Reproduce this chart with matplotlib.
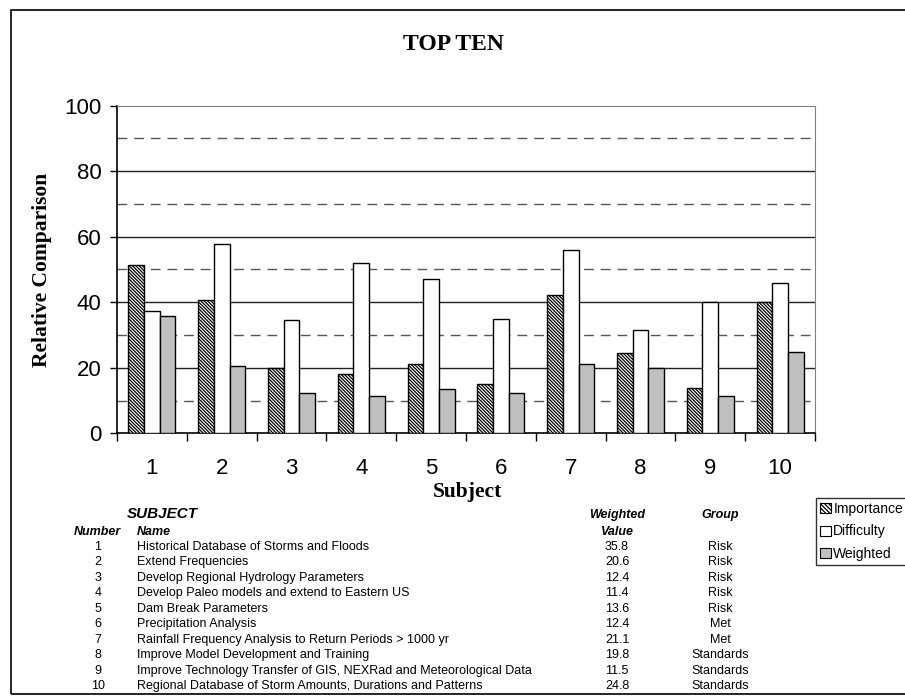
import matplotlib
matplotlib.use("Agg")
from matplotlib import pyplot as plt
from matplotlib.patches import Rectangle, Patch
import numpy as np

# data
subjects = [1, 2, 3, 4, 5, 6, 7, 8, 9, 10]
importance = [51.3, 40.6, 20.0, 18.2, 21.3, 15.1, 42.1, 24.5, 13.9, 40.0]
difficulty = [37.3, 57.8, 34.5, 52.0, 47.1, 35.0, 56.0, 31.5, 40.0, 45.8]
weighted = [35.8, 20.6, 12.4, 11.4, 13.6, 12.4, 21.1, 19.8, 11.5, 24.8]

names = ["Historical Database of Storms and Floods",
         "Extend Frequencies",
         "Develop Regional Hydrology Parameters",
         "Develop Paleo models and extend to Eastern US",
         "Dam Break Parameters",
         "Precipitation Analysis",
         "Rainfall Frequency Analysis to Return Periods > 1000 yr",
         "Improve Model Development and Training",
         "Improve Technology Transfer of GIS, NEXRad and Meteorological Data",
         "Regional Database of Storm Amounts, Durations and Patterns"]
weighted_txt = ["35.8", "20.6", "12.4", "11.4", "13.6", "12.4", "21.1", "19.8", "11.5", "24.8"]
groups = ["Risk", "Risk", "Risk", "Risk", "Risk", "Met", "Met",
          "Standards", "Standards", "Standards"]

W, H = 905, 696
plt.rcParams["hatch.linewidth"] = 0.9
serif = "Liberation Serif"
sans = "Liberation Sans"

fig = plt.figure(figsize=(W / 100, H / 100), dpi=100)

def fx(px):
    return px / W

def fy(py):
    return 1 - py / H

# outer chart frame (runs off the right edge like the original)
fig.patches.append(Rectangle((fx(11), fy(694)), fx(920) - fx(11), fy(10) - fy(694),
                             transform=fig.transFigure, fill=False,
                             edgecolor="black", lw=1.2, zorder=0))

ax = fig.add_axes([fx(117), fy(433.3), fx(815) - fx(117), fy(105.7) - fy(433.3)])

x = np.array(subjects)
bw = 0.224
ax.bar(x - bw, importance, bw, facecolor="white", edgecolor="black", lw=1,
       hatch="\\" * 10, zorder=3)
ax.bar(x, difficulty, bw, facecolor="white", edgecolor="black", lw=1, zorder=3)
ax.bar(x + bw, weighted, bw, facecolor="#c0c0c0", edgecolor="black", lw=1, zorder=3)

ax.set_xlim(0.5, 10.5)
ax.set_ylim(0, 100)

for v in [20, 40, 60, 80]:
    ax.axhline(v, color="#222222", lw=1, zorder=1)
for v in [10, 30, 50, 70, 90]:
    ax.axhline(v, color="#555555", lw=1, ls=(0, (7, 5)), zorder=1)

ax.spines["left"].set_color("black")
ax.spines["bottom"].set_color("black")
ax.spines["left"].set_linewidth(1.2)
ax.spines["bottom"].set_linewidth(1.2)
ax.spines["top"].set_color("#808080")
ax.spines["right"].set_color("#808080")

ax.set_yticks([0, 20, 40, 60, 80, 100])
ax.tick_params(axis="y", direction="out", length=5, width=1, pad=6,
               labelsize=16, labelfontfamily=sans)
ax.set_xticks(x)
ax.set_xticklabels([str(s) for s in subjects])
ax.set_xticks(np.arange(0.5, 11, 1), minor=True)
ax.tick_params(axis="x", which="major", length=0, pad=18, labelsize=16,
               labelfontfamily=sans)
ax.tick_params(axis="x", which="minor", direction="out", length=6, width=1)

fig.text(fx(453), fy(45), "TOP TEN", ha="center", va="center",
         fontsize=17, fontweight="bold", family=serif)
fig.text(fx(42), fy(270), "Relative Comparison", ha="center", va="center",
         rotation=90, fontsize=15.5, fontweight="bold", family=serif)
fig.text(fx(467), fy(492), "Subject", ha="center", va="center",
         fontsize=15.5, fontweight="bold", family=serif)

# legend
handles = [Patch(facecolor="white", edgecolor="black", hatch="\\" * 8, lw=0.8),
           Patch(facecolor="white", edgecolor="black", lw=0.8),
           Patch(facecolor="#c0c0c0", edgecolor="black", lw=0.8)]
leg = fig.legend(handles, ["Importance", "Difficulty", "Weighted"],
                 loc="upper left", bbox_to_anchor=(fx(816), fy(498)),
                 prop={"family": sans, "size": 10}, frameon=True,
                 fancybox=False, edgecolor="black", handlelength=0.75,
                 handleheight=0.75, handletextpad=0.2, labelspacing=0.6,
                 borderpad=0.3, borderaxespad=0)
leg.get_frame().set_linewidth(1)

# subject table below the chart
fs = 9
hdr = dict(family=sans, fontweight="bold", fontstyle="italic")
fig.text(fx(127), fy(514), "SUBJECT", ha="left", va="center", fontsize=11, **hdr)
fig.text(fx(121), fy(532), "Number", ha="right", va="center", fontsize=fs, **hdr)
fig.text(fx(137), fy(532), "Name", ha="left", va="center", fontsize=fs, **hdr)
fig.text(fx(617), fy(515), "Weighted", ha="center", va="center", fontsize=fs, **hdr)
fig.text(fx(617), fy(532), "Value", ha="center", va="center", fontsize=fs, **hdr)
fig.text(fx(720), fy(515), "Group", ha="center", va="center", fontsize=fs, **hdr)

for i in range(len(subjects)):
    yy = fy(547 + 15.44 * i)
    fig.text(fx(98), yy, str(subjects[i]), ha="center", va="center", fontsize=fs, family=sans)
    fig.text(fx(137), yy, names[i], ha="left", va="center", fontsize=fs, family=sans)
    fig.text(fx(617), yy, weighted_txt[i], ha="center", va="center", fontsize=fs, family=sans)
    fig.text(fx(720), yy, groups[i], ha="center", va="center", fontsize=fs, family=sans)

fig.savefig("out.png", dpi=100)
